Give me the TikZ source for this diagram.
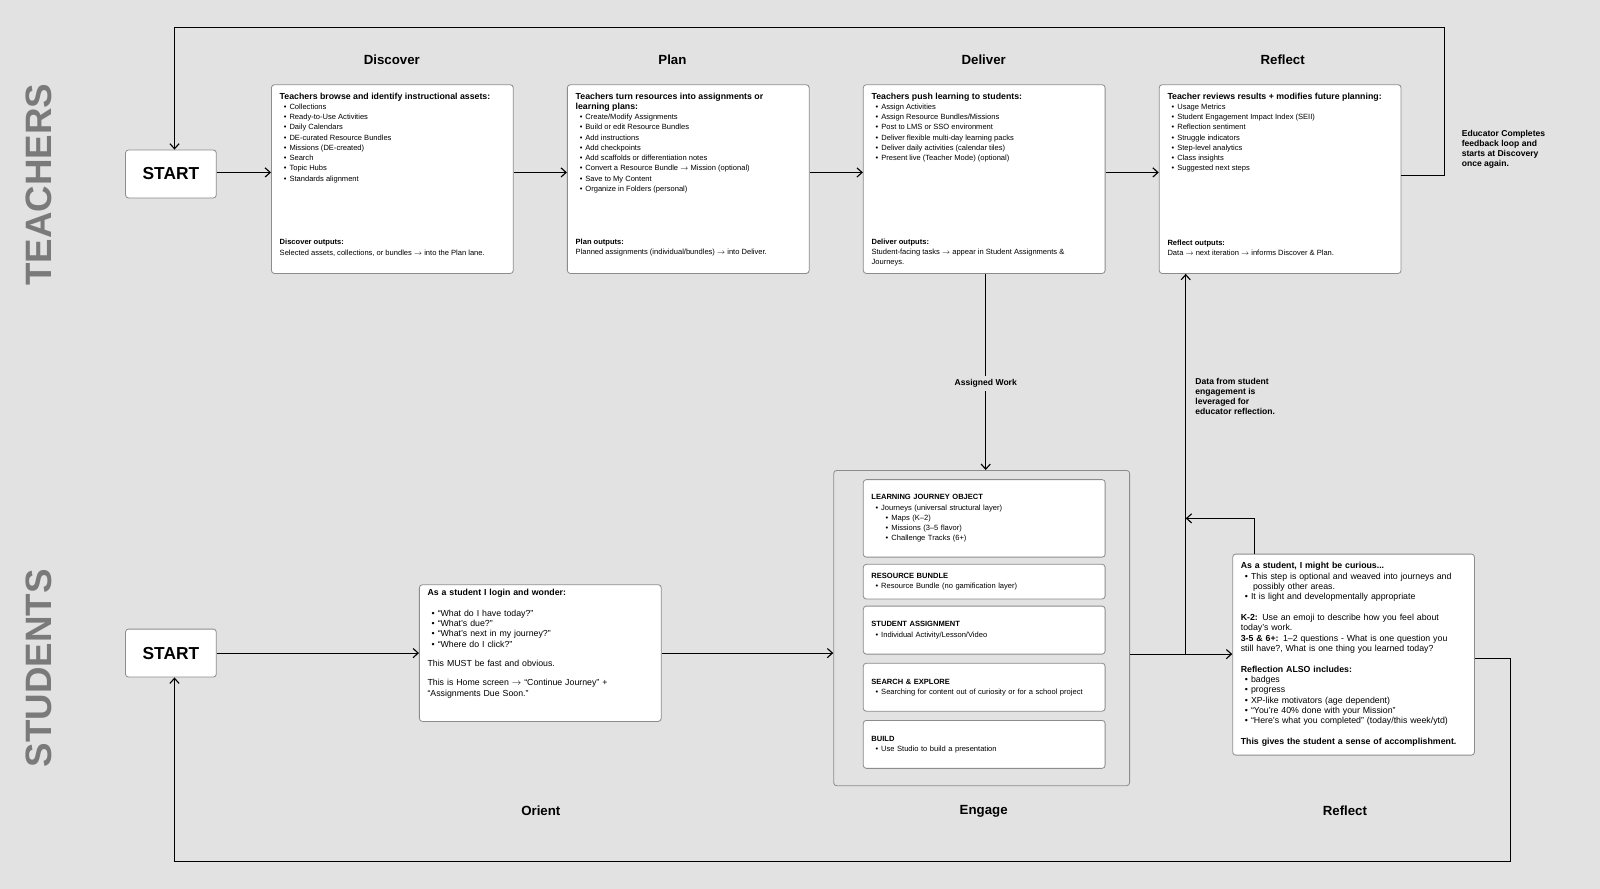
\documentclass[tikz,border=0pt]{standalone}
\usepackage{fontspec}
\setmainfont{Liberation Sans}
\usetikzlibrary{calc}
\usetikzlibrary{arrows.meta}
\definecolor{bg1}{RGB}{226, 226, 226}
\definecolor{lane1}{RGB}{122, 122, 122}
\definecolor{edge1}{RGB}{140, 140, 140}
\newcommand\itm[1]{\hspace*{4pt}\textbullet\hspace{3pt}#1\\}
\newcommand\sitm[1]{\hspace*{14pt}\textbullet\hspace{3pt}#1\\}
\newcommand\gap{\rule{0pt}{18pt}}
\newcommand\smallfont{\fontsize{7.4}{10}\selectfont}
\newcommand\midfont{\fontsize{8.6}{10}\selectfont}
\begin{document}
\begin{tikzpicture}[x=1pt, y=-1pt, line width=1.1pt, >={Straight Barb[length=5pt,width=9pt]},
  tbox/.style={draw=edge1, fill=white, rounded corners=3pt, line width=0.8pt, minimum width=237pt, minimum height=185pt, inner sep=0pt},
  ibox/.style={draw=edge1, fill=white, rounded corners=3pt, line width=0.8pt, text width=221pt, inner xsep=8pt, inner ysep=0pt, align=left, font=\smallfont},
  sbox/.style={draw=edge1, fill=white, rounded corners=3pt, line width=0.8pt, minimum width=89pt, minimum height=47pt, font=\fontsize{17}{20}\selectfont\bfseries},
  txt/.style={align=left, inner sep=0pt, font=\smallfont},
  head/.style={font=\fontsize{13}{15}\selectfont\bfseries},
  lane/.style={font=\fontsize{36}{40}\selectfont\bfseries, text=lane1, rotate=90},
  note/.style={align=left, inner sep=0pt, font=\fontsize{8.4}{10}\selectfont\bfseries}]
  \fill[bg1] (0,0) rectangle (1568,871.2);
  \useasboundingbox (0,0) rectangle (1568,871.2);

  \node[lane] (tlane) at (38,181) {TEACHERS};
  \node[lane] (slane) at (38,655) {STUDENTS};

  % teachers
  \node[sbox] (tstart) at (167.5,170.5) {START};
  \node[head] (hdisc) at (384,59) {Discover};
  \node[head] (hplan) at (659,59) {Plan};
  \node[head] (hdeli) at (964,59) {Deliver};
  \node[head] (hrefl) at (1257,59) {Reflect};

  \node[tbox] (disc) at (384.5,175.5) {};
  \node[tbox] (plan) at (674.5,175.5) {};
  \node[tbox] (deli) at (964.5,175.5) {};
  \node[tbox] (refl) at (1254.5,175.5) {};

  \node[txt, anchor=north west] (disct) at ([shift={(8pt,-8pt)}]disc.north west)
    {\textbf{\fontsize{8.6}{10}\selectfont Teachers browse and identify instructional assets:}\\
     \itm{Collections}\itm{Ready-to-Use Activities}\itm{Daily Calendars}\itm{DE-curated Resource Bundles}
     \itm{Missions (DE-created)}\itm{Search}\itm{Topic Hubs}\hspace*{4pt}\textbullet\hspace{3pt}Standards alignment};
  \node[txt, anchor=south west] (disco) at ([shift={(8pt,17pt)}]disc.south west)
    {\textbf{Discover outputs:}\\Selected assets, collections, or bundles $\rightarrow$ into the Plan lane.};

  \node[txt, anchor=north west] (plant) at ([shift={(8pt,-8pt)}]plan.north west)
    {\textbf{\fontsize{8.6}{10}\selectfont Teachers turn resources into assignments or}\\
     \textbf{\fontsize{8.6}{10}\selectfont learning plans:}\\
     \itm{Create/Modify Assignments}\itm{Build or edit Resource Bundles}\itm{Add instructions}\itm{Add checkpoints}
     \itm{Add scaffolds or differentiation notes}\itm{Convert a Resource Bundle $\rightarrow$ Mission (optional)}
     \itm{Save to My Content}\hspace*{4pt}\textbullet\hspace{3pt}Organize in Folders (personal)};
  \node[txt, anchor=south west] (plano) at ([shift={(8pt,17pt)}]plan.south west)
    {\textbf{Plan outputs:}\\Planned assignments (individual/bundles) $\rightarrow$ into Deliver.};

  \node[txt, anchor=north west] (delit) at ([shift={(8pt,-8pt)}]deli.north west)
    {\textbf{\fontsize{8.6}{10}\selectfont Teachers push learning to students:}\\
     \itm{Assign Activities}\itm{Assign Resource Bundles/Missions}\itm{Post to LMS or SSO environment}
     \itm{Deliver flexible multi-day learning packs}\itm{Deliver daily activities (calendar tiles)}
     \hspace*{4pt}\textbullet\hspace{3pt}Present live (Teacher Mode) (optional)};
  \node[txt, anchor=south west] (delio) at ([shift={(8pt,7pt)}]deli.south west)
    {\textbf{Deliver outputs:}\\Student-facing tasks $\rightarrow$ appear in Student Assignments \&\\Journeys.};

  \node[txt, anchor=north west] (reflt) at ([shift={(8pt,-8pt)}]refl.north west)
    {\textbf{\fontsize{8.6}{10}\selectfont Teacher reviews results + modifies future planning:}\\
     \itm{Usage Metrics}\itm{Student Engagement Impact Index (SEII)}\itm{Reflection sentiment}
     \itm{Struggle indicators}\itm{Step-level analytics}\itm{Class insights}\hspace*{4pt}\textbullet\hspace{3pt}Suggested next steps};
  \node[txt, anchor=south west] (reflo) at ([shift={(8pt,17pt)}]refl.south west)
    {\textbf{Reflect outputs:}\\Data $\rightarrow$ next iteration $\rightarrow$ informs Discover \& Plan.};

  \node[note, anchor=north west] (edunote) at (1432,127)
    {Educator Completes\\feedback loop and\\starts at Discovery\\once again.};

  \coordinate (trow) at (0,169);
  \foreach \from/\to in {tstart/disc, disc/plan, plan/deli, deli/refl}
    \draw[->] (\from.east |- trow) -- (\to.west |- trow);
  \coordinate (tloopa) at (1416,172);
  \coordinate (tloopb) at (171,27);
  \draw[->] (refl.east |- tloopa) -- (tloopa) |- (tloopb) -- (tstart.north -| tloopb);

  % students
  \node[sbox] (sstart) at (167.5,640) {START};
  \node[ibox, font=\midfont, minimum height=134pt] (orient) at (529.5,640)
    {\textbf{As a student I login and wonder:}\\
     \gap\itm{``What do I have today?''}\itm{``What's due?''}\itm{``What's next in my journey?''}\itm{``Where do I click?''}
     \gap This MUST be fast and obvious.\\
     \gap This is Home screen $\rightarrow$ ``Continue Journey'' +\\``Assignments Due Soon.''\\ \gap};

  \node[draw=edge1, rounded corners=3pt, line width=0.8pt, minimum width=290pt, minimum height=309pt] (engage) at (962,615.5) {};
  \node[ibox, minimum height=76pt] (ljo) at (964.5,508)
    {\textbf{LEARNING JOURNEY OBJECT}\\ \itm{Journeys (universal structural layer)}\sitm{Maps (K--2)}\sitm{Missions (3--5 flavor)}\hspace*{14pt}\textbullet\hspace{3pt}Challenge Tracks (6+)};
  \node[ibox, minimum height=34pt] (rbun) at (964.5,570)
    {\textbf{RESOURCE BUNDLE}\\ \hspace*{4pt}\textbullet\hspace{3pt}Resource Bundle (no gamification layer)};
  \node[ibox, minimum height=47pt] (sasg) at (964.5,617.5)
    {\textbf{STUDENT ASSIGNMENT}\\ \hspace*{4pt}\textbullet\hspace{3pt}Individual Activity/Lesson/Video};
  \node[ibox, minimum height=47pt] (sexp) at (964.5,673.5)
    {\textbf{SEARCH \& EXPLORE}\\ \hspace*{4pt}\textbullet\hspace{3pt}Searching for content out of curiosity or for a school project};
  \node[ibox, minimum height=47pt] (bld) at (964.5,729.5)
    {\textbf{BUILD}\\ \hspace*{4pt}\textbullet\hspace{3pt}Use Studio to build a presentation};

  \node[ibox, font=\midfont, minimum height=197pt] (sref) at (1326.5,641.5)
    {\textbf{As a student, I might be curious...}\\
     \itm{This step is optional and weaved into journeys and}\hspace*{12pt}possibly other areas.\\
     \itm{It is light and developmentally appropriate}
     \gap\textbf{K-2:} Use an emoji to describe how you feel about\\today's work.\\
     \textbf{3-5 \& 6+:} 1--2 questions - What is one question you\\still have?, What is one thing you learned today?\\
     \gap\textbf{Reflection ALSO includes:}\\
     \itm{badges}\itm{progress}\itm{XP-like motivators (age dependent)}\itm{``You're 40\% done with your Mission''}
     \itm{``Here's what you completed'' (today/this week/ytd)}
     \gap\textbf{This gives the student a sense of accomplishment.}};

  \node[head] (horie) at (530,795) {Orient};
  \node[head] (henga) at (964,795) {Engage};
  \node[head] (hsref) at (1318,795) {Reflect};

  \coordinate (srow) at (0,641);
  \draw[->] (sstart) -- (orient);
  \draw[->] (orient.east) -- (engage.west |- orient.east);
  \draw[->] (engage.east |- srow) -- (sref.west |- srow);
  \coordinate (junc) at (1162,641);
  \draw[->] (junc) -- (refl.south -| junc);
  \coordinate (sloop) at (1229,508);
  \draw[->] (sref.north -| sloop) -- (sloop) -- (junc |- sloop);
  \node[fill=bg1, font=\fontsize{8.4}{10}\selectfont\bfseries, inner sep=3pt] (awlab) at (966,376) {Assigned Work};
  \draw[->] (deli.south -| awlab) -- (awlab) -- (engage.north -| awlab);
  \node[note, anchor=north west] (datanote) at (1171,370)
    {Data from student\\engagement is\\leveraged for\\educator reflection.};

  \coordinate (bloopa) at (1480,645);
  \coordinate (bloopb) at (171,844);
  \draw[->] (sref.east |- bloopa) -- (bloopa) |- (bloopb) -- (sstart.south -| bloopb);
\end{tikzpicture}
\end{document}
